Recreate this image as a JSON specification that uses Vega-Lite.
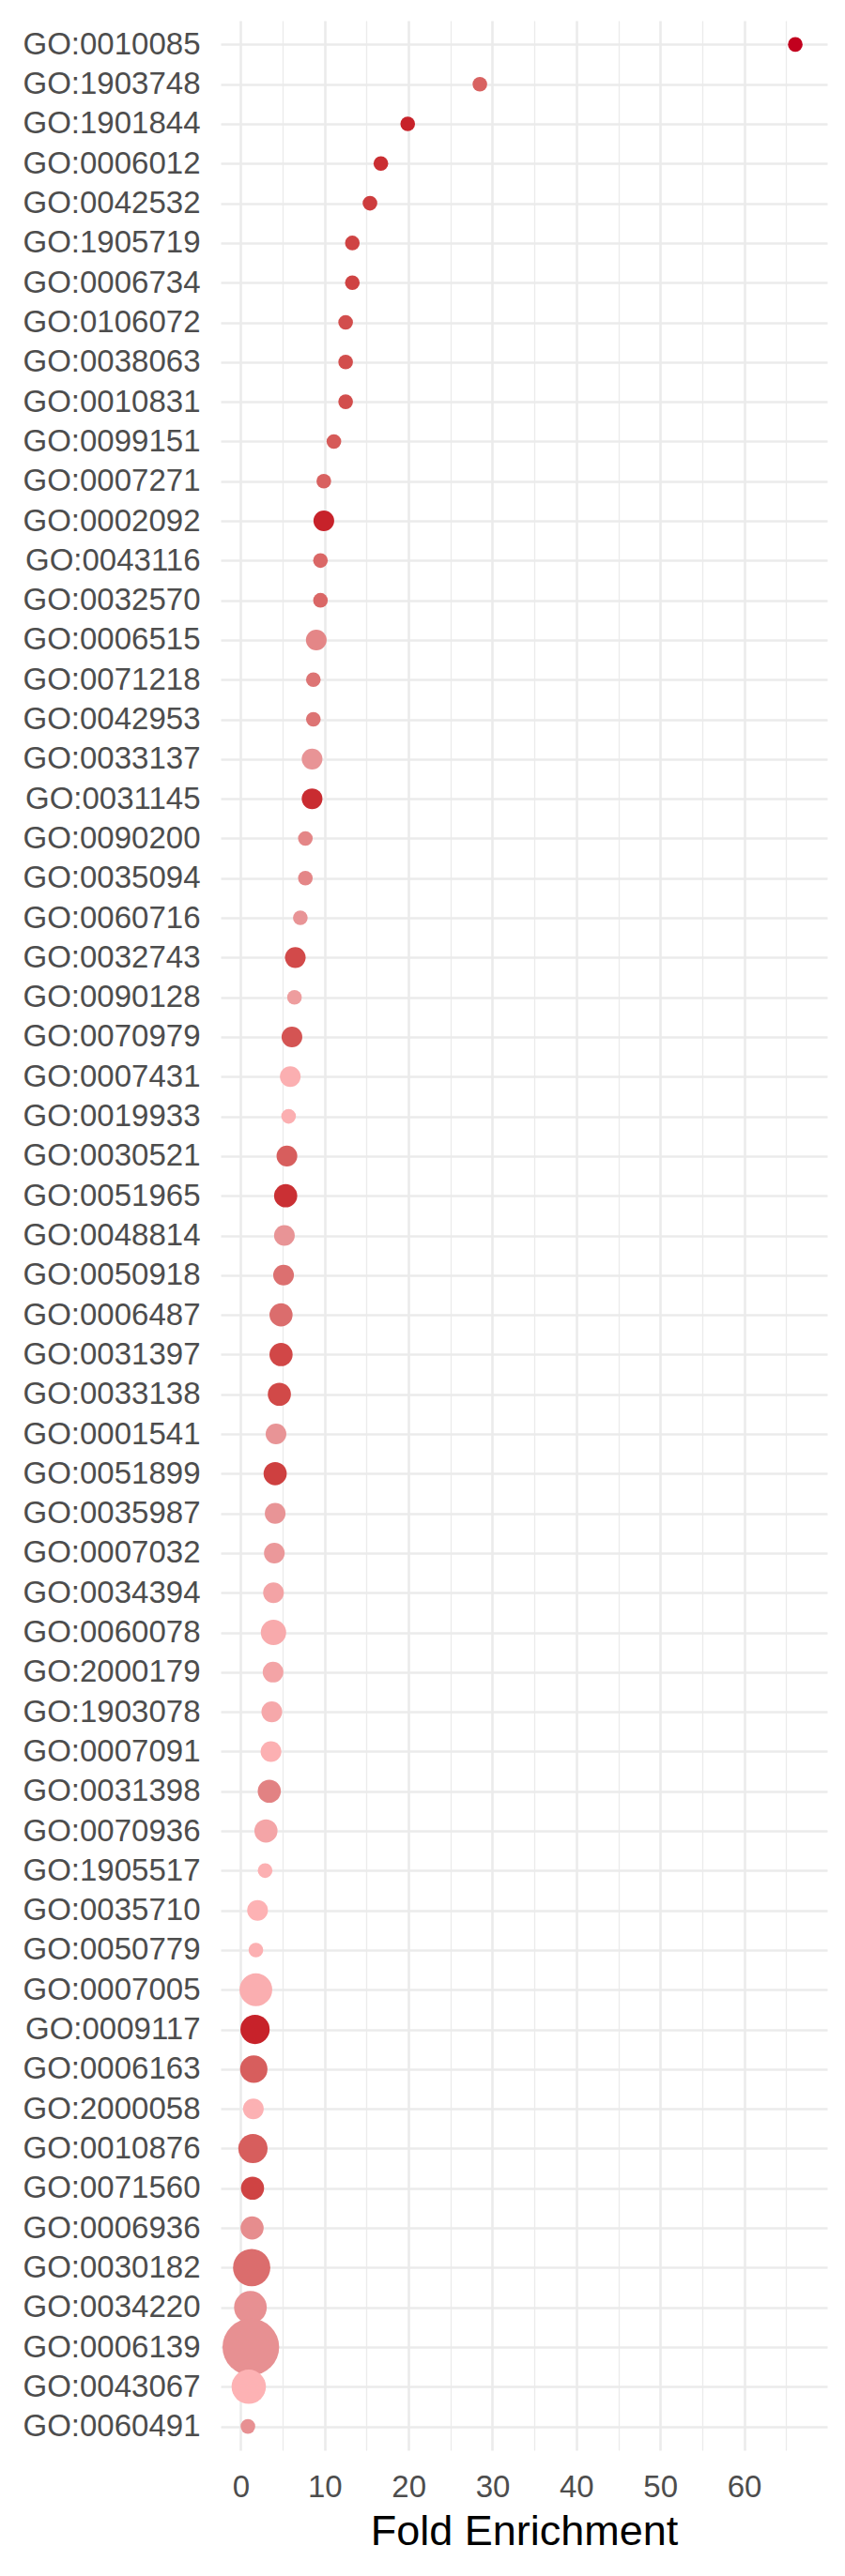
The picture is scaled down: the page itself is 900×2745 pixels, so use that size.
{
  "$schema": "https://vega.github.io/schema/vega-lite/v6.json",
  "autosize": {"type": "none"},
  "padding": {"left": 235, "top": 22, "right": 19, "bottom": 134},
  "width": 646,
  "height": 2589,
  "background": "white",
  "config": {"view": {"stroke": null}, "font": "Liberation Sans"},
  "data": {"values": [
    {"term": "GO:0010085", "fold": 66.1, "count": 2, "neglog10FDR": 10.0},
    {"term": "GO:1903748", "fold": 28.5, "count": 2, "neglog10FDR": 5.7},
    {"term": "GO:1901844", "fold": 19.9, "count": 2, "neglog10FDR": 9.2},
    {"term": "GO:0006012", "fold": 16.7, "count": 2, "neglog10FDR": 8.7},
    {"term": "GO:0042532", "fold": 15.4, "count": 2, "neglog10FDR": 8.0},
    {"term": "GO:1905719", "fold": 13.3, "count": 2, "neglog10FDR": 7.6},
    {"term": "GO:0006734", "fold": 13.3, "count": 2, "neglog10FDR": 7.6},
    {"term": "GO:0106072", "fold": 12.5, "count": 2, "neglog10FDR": 7.0},
    {"term": "GO:0038063", "fold": 12.5, "count": 2, "neglog10FDR": 7.0},
    {"term": "GO:0010831", "fold": 12.5, "count": 2, "neglog10FDR": 7.0},
    {"term": "GO:0099151", "fold": 11.1, "count": 2, "neglog10FDR": 6.2},
    {"term": "GO:0007271", "fold": 9.9, "count": 2, "neglog10FDR": 5.8},
    {"term": "GO:0002092", "fold": 9.9, "count": 4, "neglog10FDR": 9.2},
    {"term": "GO:0043116", "fold": 9.5, "count": 2, "neglog10FDR": 5.4},
    {"term": "GO:0032570", "fold": 9.5, "count": 2, "neglog10FDR": 5.4},
    {"term": "GO:0006515", "fold": 9.0, "count": 4, "neglog10FDR": 3.6},
    {"term": "GO:0071218", "fold": 8.65, "count": 2, "neglog10FDR": 4.6},
    {"term": "GO:0042953", "fold": 8.65, "count": 2, "neglog10FDR": 4.6},
    {"term": "GO:0033137", "fold": 8.5, "count": 4, "neglog10FDR": 2.8},
    {"term": "GO:0031145", "fold": 8.5, "count": 4, "neglog10FDR": 8.8},
    {"term": "GO:0090200", "fold": 7.7, "count": 2, "neglog10FDR": 3.6},
    {"term": "GO:0035094", "fold": 7.7, "count": 2, "neglog10FDR": 3.6},
    {"term": "GO:0060716", "fold": 7.1, "count": 2, "neglog10FDR": 2.8},
    {"term": "GO:0032743", "fold": 6.5, "count": 4, "neglog10FDR": 7.2},
    {"term": "GO:0090128", "fold": 6.4, "count": 2, "neglog10FDR": 2.0},
    {"term": "GO:0070979", "fold": 6.1, "count": 4, "neglog10FDR": 6.6},
    {"term": "GO:0007431", "fold": 5.9, "count": 4, "neglog10FDR": 0.3},
    {"term": "GO:0019933", "fold": 5.7, "count": 2, "neglog10FDR": 0.3},
    {"term": "GO:0030521", "fold": 5.5, "count": 4, "neglog10FDR": 6.0},
    {"term": "GO:0051965", "fold": 5.35, "count": 5, "neglog10FDR": 8.6},
    {"term": "GO:0048814", "fold": 5.2, "count": 4, "neglog10FDR": 2.8},
    {"term": "GO:0050918", "fold": 5.1, "count": 4, "neglog10FDR": 4.8},
    {"term": "GO:0006487", "fold": 4.8, "count": 5, "neglog10FDR": 5.0},
    {"term": "GO:0031397", "fold": 4.8, "count": 5, "neglog10FDR": 7.4},
    {"term": "GO:0033138", "fold": 4.6, "count": 5, "neglog10FDR": 7.3},
    {"term": "GO:0001541", "fold": 4.2, "count": 4, "neglog10FDR": 2.8},
    {"term": "GO:0051899", "fold": 4.1, "count": 5, "neglog10FDR": 7.8},
    {"term": "GO:0035987", "fold": 4.1, "count": 4, "neglog10FDR": 2.8},
    {"term": "GO:0007032", "fold": 4.0, "count": 4, "neglog10FDR": 2.4},
    {"term": "GO:0034394", "fold": 3.9, "count": 4, "neglog10FDR": 1.4},
    {"term": "GO:0060078", "fold": 3.9, "count": 6, "neglog10FDR": 0.7},
    {"term": "GO:2000179", "fold": 3.85, "count": 4, "neglog10FDR": 1.3},
    {"term": "GO:1903078", "fold": 3.7, "count": 4, "neglog10FDR": 0.9},
    {"term": "GO:0007091", "fold": 3.6, "count": 4, "neglog10FDR": 0.2},
    {"term": "GO:0031398", "fold": 3.4, "count": 5, "neglog10FDR": 3.8},
    {"term": "GO:0070936", "fold": 3.0, "count": 5, "neglog10FDR": 1.2},
    {"term": "GO:1905517", "fold": 2.9, "count": 2, "neglog10FDR": 0.2},
    {"term": "GO:0035710", "fold": 2.0, "count": 4, "neglog10FDR": 0.0},
    {"term": "GO:0050779", "fold": 1.8, "count": 2, "neglog10FDR": 0.2},
    {"term": "GO:0007005", "fold": 1.8, "count": 10, "neglog10FDR": 0.4},
    {"term": "GO:0009117", "fold": 1.7, "count": 8, "neglog10FDR": 9.2},
    {"term": "GO:0006163", "fold": 1.55, "count": 7, "neglog10FDR": 6.0},
    {"term": "GO:2000058", "fold": 1.5, "count": 4, "neglog10FDR": 0.1},
    {"term": "GO:0010876", "fold": 1.45, "count": 8, "neglog10FDR": 6.0},
    {"term": "GO:0071560", "fold": 1.4, "count": 5, "neglog10FDR": 7.6},
    {"term": "GO:0006936", "fold": 1.35, "count": 5, "neglog10FDR": 3.2},
    {"term": "GO:0030182", "fold": 1.3, "count": 13, "neglog10FDR": 5.0},
    {"term": "GO:0034220", "fold": 1.15, "count": 10, "neglog10FDR": 3.0},
    {"term": "GO:0006139", "fold": 1.2, "count": 30, "neglog10FDR": 3.0},
    {"term": "GO:0043067", "fold": 0.95, "count": 11, "neglog10FDR": 0.0},
    {"term": "GO:0060491", "fold": 0.85, "count": 2, "neglog10FDR": 3.0}
  ]},
  "mark": {"type": "circle", "opacity": 1, "clip": true},
  "encoding": {
    "y": {
      "field": "term", "type": "nominal", "sort": null,
      "scale": {"type": "point", "padding": 0.6},
      "axis": {
        "title": null, "domain": false, "ticks": false, "tickSize": 0,
        "labelPadding": 22, "labelFontSize": 33, "labelColor": "#4D4D4D",
        "labelFont": "Liberation Sans", "labelLimit": 0,
        "grid": true, "gridColor": "#EBEBEB", "gridWidth": 2.6
      }
    },
    "x": {
      "field": "fold", "type": "quantitative",
      "scale": {"domain": [-2.4, 69.9], "nice": false, "zero": false},
      "axis": {
        "title": "Fold Enrichment", "titleFontSize": 45, "titleFontWeight": "normal",
        "titleColor": "#000000", "titleFont": "Liberation Sans", "titlePadding": 8,
        "values": [0, 5, 10, 15, 20, 25, 30, 35, 40, 45, 50, 55, 60, 65],
        "labelExpr": "datum.value % 10 === 0 ? datum.label : ''",
        "domain": false, "ticks": false, "tickSize": 0,
        "labelPadding": 23, "labelFontSize": 33, "labelColor": "#4D4D4D",
        "labelFont": "Liberation Sans", "labelFlush": false, "labelOverlap": false,
        "grid": true, "gridColor": "#EBEBEB",
        "gridWidth": {"condition": {"test": "datum.value % 10 === 0", "value": 2.6}, "value": 1.3}
      }
    },
    "size": {
      "field": "count", "type": "quantitative",
      "scale": {"type": "linear", "domain": [0, 30], "range": [0, 3645]},
      "legend": null
    },
    "color": {
      "field": "neglog10FDR", "type": "quantitative",
      "scale": {"domain": [0, 2.8, 4.8, 7.5, 10], "range": ["#FDB2B4", "#E89496", "#DC7070", "#D04545", "#C2001E"], "interpolate": "lab"},
      "legend": null
    }
  }
}
